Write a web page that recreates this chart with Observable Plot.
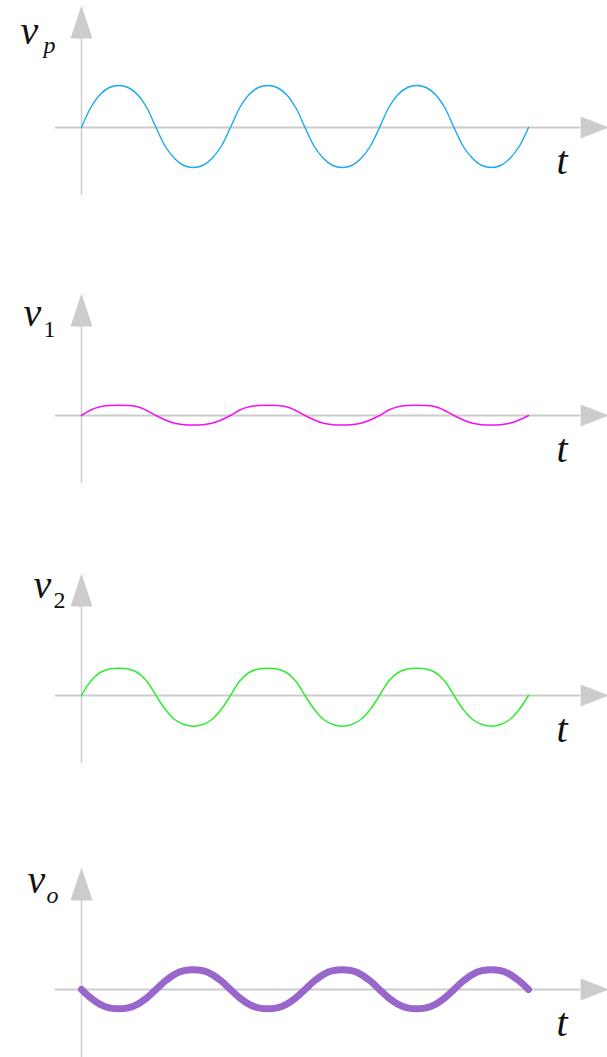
<!DOCTYPE html>
<html>
<head>
<meta charset="utf-8">
<script src="https://cdn.jsdelivr.net/npm/d3@7"></script>
<script src="https://cdn.jsdelivr.net/npm/@observablehq/plot@0.6"></script>
<style>
  html, body { margin: 0; padding: 0; background: #fff; }
  #chart svg { display: block; }
</style>
</head>
<body>
<div id="chart"></div>
<script>
// Sample instants, in sixteenths of a period (three full periods)
const step = [0,1,2,3,4,5,6,7,8,9,10,11,12,13,14,15,16,17,18,19,20,21,22,23,24,
  25,26,27,28,29,30,31,32,33,34,35,36,37,38,39,40,41,42,43,44,45,46,47,48];

// Primary voltage v_p
const vp = [0,20,33,40,42,40,33,20,0,-19,-31,-38,-40,-38,-31,-19,
  0,20,33,40,42,40,33,20,0,-19,-31,-38,-40,-38,-31,-19,
  0,20,33,40,42,40,33,20,0,-19,-31,-38,-40,-38,-31,-19,0];

// First stage output v_1
const v1 = [0,5.5,8.7,10,10.3,10,8.7,5,0,-4.5,-7.8,-9.2,-9.5,-9.2,-7.8,-4.5,
  0,5.5,8.7,10,10.3,10,8.7,5,0,-4.5,-7.8,-9.2,-9.5,-9.2,-7.8,-4.5,
  0,5.5,8.7,10,10.3,10,8.7,5,0,-4.5,-7.8,-9.2,-9.5,-9.2,-7.8,-4.5,0];

// Second stage output v_2
const v2 = [0,14.5,23,26.5,27.3,26.5,23,14.5,0,-14,-24,-29,-30.7,-29,-24,-14,
  0,14.5,23,26.5,27.3,26.5,23,14.5,0,-14,-24,-29,-30.7,-29,-24,-14,
  0,14.5,23,26.5,27.3,26.5,23,14.5,0,-14,-24,-29,-30.7,-29,-24,-14,0];

// Output v_o (inverted)
const vo = [0,-8.5,-14.8,-18.3,-19.3,-18.3,-14.8,-8.5,0,8.6,15.2,18.8,19.8,18.8,15.2,8.6,
  0,-8.5,-14.8,-18.3,-19.3,-18.3,-14.8,-8.5,0,8.6,15.2,18.8,19.8,18.8,15.2,8.6,
  0,-8.5,-14.8,-18.3,-19.3,-18.3,-14.8,-8.5,0,8.6,15.2,18.8,19.8,18.8,15.2,8.6,0];

// Axis labels
const labelMain = ["v", "v", "v", "v"];
const labelSub = ["p", "1", "2", "o"];
const timeLabel = "t";

// Panel layout (page pixels): top, height, time-axis row, label placement
const panels = [
  {top: 0,   h: 280, axis: 127, values: vp, color: "#17a9ef", width: 1.4, vx: 20, vy: 43,  sx: 43, sy: 52,  subItalic: true},
  {top: 280, h: 280, axis: 415, values: v1, color: "#f012f0", width: 1.6, vx: 23, vy: 325, sx: 43, sy: 336, subItalic: false},
  {top: 560, h: 290, axis: 695, values: v2, color: "#2fec2f", width: 1.5, vx: 33, vy: 597, sx: 53, sy: 607, subItalic: false},
  {top: 850, h: 207, axis: 989, values: vo, color: "#9966cc", width: 7,   vx: 27, vy: 892, sx: 46, sy: 902, subItalic: true}
];

const axisGrey = "#cccccc";
const axisStart = -2.8, axisEnd = 53.6;   // time-axis extent (sixteenths)
const arrowBase = 89;                      // top of the vertical axis line (y units above zero)
const axisBottom = -68;                    // bottom of the vertical axis line
const tBaseline = 46;                      // "t" baseline below the time axis

// Filled arrowheads, drawn from the base centre
const arrowRight = {draw(ctx) { ctx.moveTo(0, -11); ctx.lineTo(28, 0); ctx.lineTo(0, 11); ctx.closePath(); }};
const arrowUp = {draw(ctx) { ctx.moveTo(-11, 0); ctx.lineTo(0, -33); ctx.lineTo(11, 0); ctx.closePath(); }};

const serif = "'Liberation Serif', 'DejaVu Serif', serif";
const root = document.getElementById("chart");

panels.forEach((p, i) => {
  const data = step.map((s, k) => ({s, v: p.values[k]}));
  const z = p.axis - p.top;   // zero row inside this panel
  const svg = Plot.plot({
    width: 607,
    height: p.h,
    margin: 0,
    x: {domain: [0, 48], range: [81, 528], axis: null},
    y: {domain: [z - p.h, z], axis: null},
    marks: [
      Plot.ruleY([0], {x1: axisStart, x2: axisEnd, stroke: axisGrey, strokeWidth: 1.8}),
      Plot.ruleX([0], {y1: Math.max(axisBottom, z - p.h), y2: arrowBase, stroke: axisGrey, strokeWidth: 1.5}),
      Plot.dot([{s: axisEnd, v: 0}], {x: "s", y: "v", symbol: arrowRight, fill: axisGrey, stroke: null}),
      Plot.dot([{s: 0, v: arrowBase}], {x: "s", y: "v", symbol: arrowUp, fill: axisGrey, stroke: null}),
      Plot.line(data, {x: "s", y: "v", stroke: p.color, strokeWidth: p.width,
        curve: "catmull-rom", strokeLinecap: "round", strokeLinejoin: "round"}),
      Plot.text([labelMain[i]], {frameAnchor: "top-left", dx: p.vx, dy: p.vy - p.top, text: d => d,
        textAnchor: "start", lineAnchor: "bottom", fontSize: 40, fontStyle: "italic",
        fontFamily: serif, fill: "#111"}),
      Plot.text([labelSub[i]], {frameAnchor: "top-left", dx: p.sx, dy: p.sy - p.top, text: d => d,
        textAnchor: "start", lineAnchor: "bottom", fontSize: 24,
        fontStyle: p.subItalic ? "italic" : "normal", fontFamily: serif, fill: "#111"}),
      Plot.text([timeLabel], {frameAnchor: "top-left", dx: 556, dy: z + tBaseline, text: d => d,
        textAnchor: "start", lineAnchor: "bottom", fontSize: 40, fontStyle: "italic",
        fontFamily: serif, fill: "#111"})
    ]
  });
  root.appendChild(svg);
});
</script>
</body>
</html>
